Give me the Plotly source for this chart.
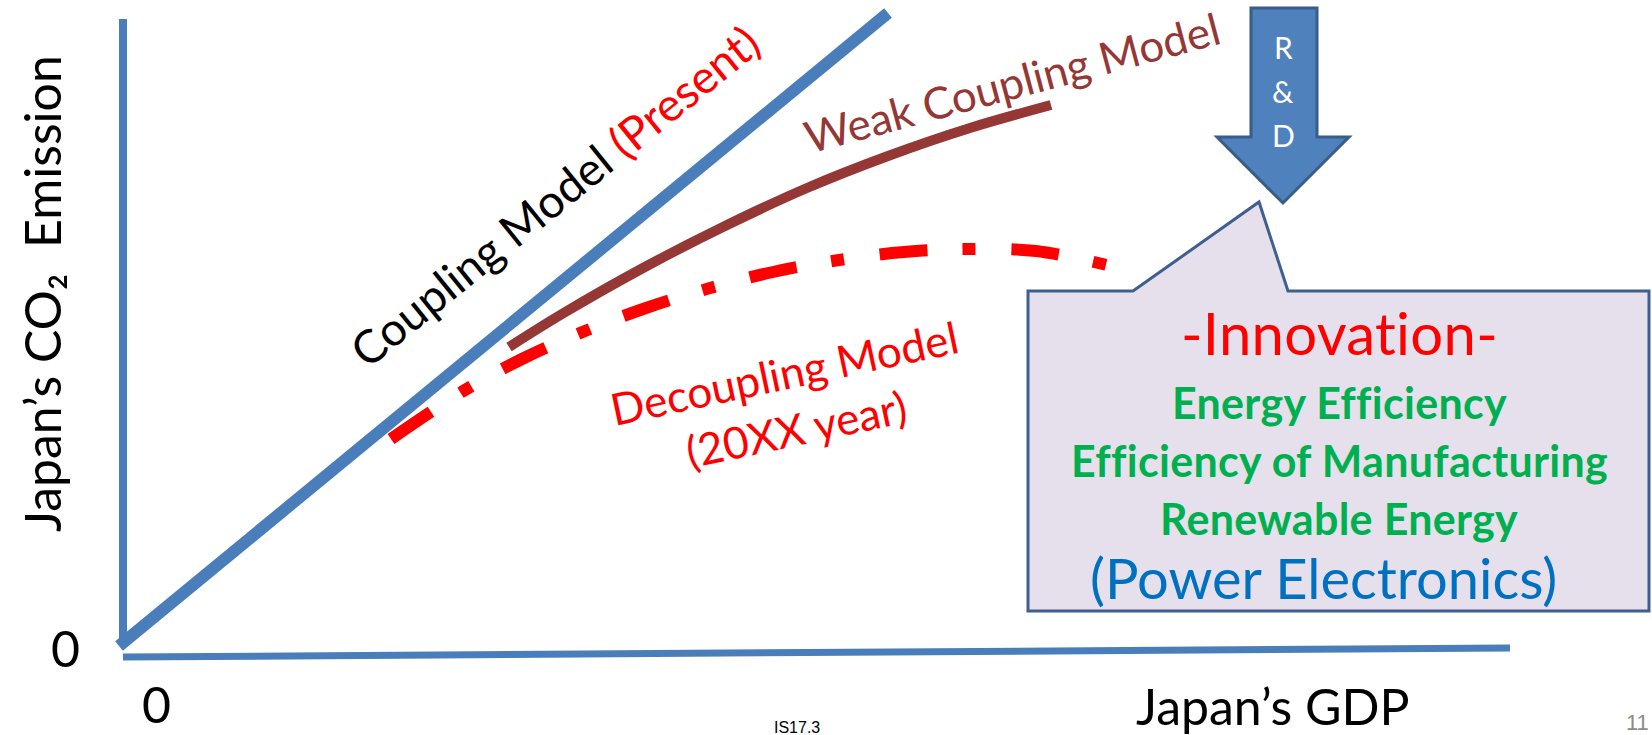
import plotly.graph_objects as go

W, H = 1652, 735

# Emission vs GDP (arbitrary units, origin at the axes corner)
coupling_gdp = [0, 769]
coupling_co2 = [0, 633]

weak_gdp = [390, 443, 524, 606, 688, 769, 851, 932]
weak_co2 = [299, 332, 378, 420, 458, 490, 518, 541]

decoupling_gdp = [272, 346, 405, 466, 527, 591, 654, 720, 785, 851, 917, 988]
decoupling_co2 = [207, 256, 288, 315, 338, 358, 374, 386, 394, 397, 395, 381]

rd_letters = ["R", "&", "D"]
innovation_items = ["Energy Efficiency", "Efficiency of Manufacturing", "Renewable Energy"]

# axis extents in data units
gdp_axis = [4, 1391]
co2_axis = [1, 627]

BLUE = "#4A7EBB"
BROWN = "#953735"
RED = "#FF0000"
GREEN = "#00B050"
FONT = "Lato"

X0, Y0 = 119, 646  # pixel position of the data origin


def px(x, y):
    return dict(x=x / W, y=1 - y / H, xref="paper", yref="paper")


def ppath(points):
    return "M " + " L ".join(f"{x / W:.5f},{1 - y / H:.5f}" for x, y in points) + " Z"


def noliga(s):
    # a tiny letter spacing switches off Lato's optional ligatures (ti, ffi)
    return f"<span style='letter-spacing:0.3px'>{s}</span>"


fig = go.Figure()

fig.add_trace(go.Scatter(x=coupling_gdp, y=coupling_co2, mode="lines",
                         line=dict(color=BLUE, width=12), hoverinfo="skip"))
fig.add_trace(go.Scatter(x=weak_gdp, y=weak_co2, mode="lines",
                         line=dict(color=BROWN, width=10, shape="spline"), hoverinfo="skip"))
fig.add_trace(go.Scatter(x=decoupling_gdp, y=decoupling_co2, mode="lines",
                         line=dict(color=RED, width=12, shape="spline",
                                   dash="48px,35px,13px,36px"), hoverinfo="skip"))

shapes = [
    # axes
    dict(type="line", xref="x", yref="y", x0=gdp_axis[0], x1=gdp_axis[0],
         y0=co2_axis[0], y1=co2_axis[1], line=dict(color=BLUE, width=8)),
    dict(type="line", xref="x", yref="y", x0=gdp_axis[0], x1=gdp_axis[1],
         y0=-11, y1=-2, line=dict(color=BLUE, width=7)),
    # R&D arrow
    dict(type="path", xref="paper", yref="paper",
         path=ppath([(1251, 8), (1317, 8), (1317, 137), (1349, 137), (1283, 203),
                     (1217, 137), (1251, 137)]),
         fillcolor="#4F81BD", line=dict(color="#385D8A", width=3)),
    # callout box
    dict(type="path", xref="paper", yref="paper",
         path=ppath([(1028, 291), (1133, 291), (1259, 202), (1288, 291), (1649, 291),
                     (1649, 611), (1028, 611)]),
         fillcolor="#E6E0EC", line=dict(color="#3F5F8F", width=3)),
]

ann = []


def text(x, y, s, size, color="black", angle=0, bold=False, family=FONT, **kw):
    d = px(x, y)
    d.update(text=f"<b>{s}</b>" if bold else s, showarrow=False, textangle=angle,
             xanchor="center", yanchor="middle",
             font=dict(family=family, size=size, color=color))
    d.update(kw)
    ann.append(d)


text(555, 196, f"Coupling Model <span style='color:{RED}'>(Present)</span>", 46, angle=-39)
text(1012, 82, "Weak Coupling Model", 44, color=BROWN, angle=-15)
text(790, 400, "Decoupling Model<br>(20XX year)", 44, color=RED, angle=-12)

for i, ch in enumerate(rd_letters):
    text(1283, 47 + i * 44, ch, 30, color="white")

text(1339, 332, noliga("-Innovation-"), 58, color=RED)
for i, item in enumerate(innovation_items):
    text(1339, 402 + i * 58, noliga(item), 43, color=GREEN, bold=True)
text(1323, 577, "(Power Electronics)", 56, color="#0070C0")

text(42, 294, "Japan\u2019s CO\u2082\u00a0\u00a0Emission", 50, angle=-90)
text(65, 648, "0", 50)
text(156, 704, "0", 50)
text(1273, 706, "Japan\u2019s GDP", 50)
text(797, 727, "IS17.3", 16, family="Liberation Sans")
text(1637, 722, "11", 22, color="#8C8C8C", family="Liberation Sans")

fig.update_layout(
    width=W, height=H,
    margin=dict(l=0, r=0, t=0, b=0),
    paper_bgcolor="white", plot_bgcolor="white",
    showlegend=False,
    xaxis=dict(range=[-X0, W - X0], visible=False),
    yaxis=dict(range=[Y0 - H, Y0], visible=False),
    shapes=shapes,
    annotations=ann,
)

fig.write_html("out.html")
